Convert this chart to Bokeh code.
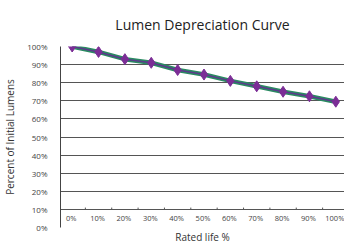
from bokeh.plotting import figure
from bokeh.models import Range1d, FixedTicker, Title, ColumnDataSource, CustomJSTickFormatter
from bokeh.core.properties import value
from bokeh.embed import file_html
from bokeh.resources import INLINE

categories = ["0%", "10%", "20%", "30%", "40%", "50%", "60%", "70%", "80%", "90%", "100%"]
lumens = [100, 97, 93, 91, 87, 84.5, 81, 78, 75, 72.5, 69.5]
y_ticks = [0, 10, 20, 30, 40, 50, 60, 70, 80, 90, 100]

xs = list(range(len(categories)))

p = figure(width=344, height=243, output_backend="svg", toolbar_location=None,
           x_range=Range1d(-0.443, 10.33), y_range=Range1d(0, 100),
           min_border_left=52, min_border_right=0, min_border_top=46, min_border_bottom=15)

p.title.text = "Lumen Depreciation Curve"
p.title.align = "center"
p.title.text_font = "Open Sans"
p.title.text_font_size = "14px"
p.title.text_font_style = "normal"
p.title.text_color = "#222222"
p.title.standoff = 25

p.outline_line_color = None
p.background_fill_color = "white"
p.border_fill_color = "white"

p.xaxis.visible = False
p.xgrid.visible = False

p.yaxis.ticker = FixedTicker(ticks=y_ticks)
p.yaxis.formatter = CustomJSTickFormatter(code="return tick.toFixed(0) + '%';")
p.yaxis.major_tick_line_color = None
p.yaxis.minor_tick_line_color = None
p.yaxis.major_label_standoff = 7
p.yaxis.major_label_text_font = "Open Sans"
p.yaxis.major_label_text_font_size = "8px"
p.yaxis.major_label_text_color = "#444444"
p.yaxis.axis_line_color = "#444444"
p.yaxis.axis_label = "Percent of Initial Lumens"
p.yaxis.axis_label_text_font = "Open Sans"
p.yaxis.axis_label_text_font_size = "10px"
p.yaxis.axis_label_text_font_style = "normal"
p.yaxis.axis_label_text_color = "#333333"
p.yaxis.axis_label_standoff = 7

p.ygrid.ticker = FixedTicker(ticks=y_ticks)
p.ygrid.grid_line_color = "#555555"
p.ygrid.grid_line_width = 1

# category labels sitting between 0% and 10% lines
src_lab = ColumnDataSource(dict(x=xs, y=[5] * len(xs), t=categories))
p.text(x="x", y="y", text="t", source=src_lab, text_align="center", text_baseline="middle",
       x_offset=-1, text_font=value("Open Sans"), text_font_size="7.5px", text_color="#444444")

# small tick marks on the 10% line between categories
tx = [i + 0.5 for i in range(len(categories) - 1)]
p.segment(x0=tx, y0=[10] * len(tx), x1=tx, y1=[11] * len(tx), line_color="#555555", line_width=1)

src = ColumnDataSource(dict(x=xs, y=lumens))
p.line("x", "y", source=src, line_color="#2b8a62", line_width=4.5)
p.line("x", "y", source=src, line_color="#5c3a8c", line_width=1.5)
p.scatter("x", "y", source=src, marker="diamond", size=11, fill_color="#7b2d96", line_color="#7b2d96")

p.add_layout(Title(text="Rated life %", align="center", text_font="Open Sans", text_font_size="10px",
                   text_font_style="normal", text_color="#333333", standoff=0), "below")

open("out.html", "w").write(file_html(p, INLINE))
